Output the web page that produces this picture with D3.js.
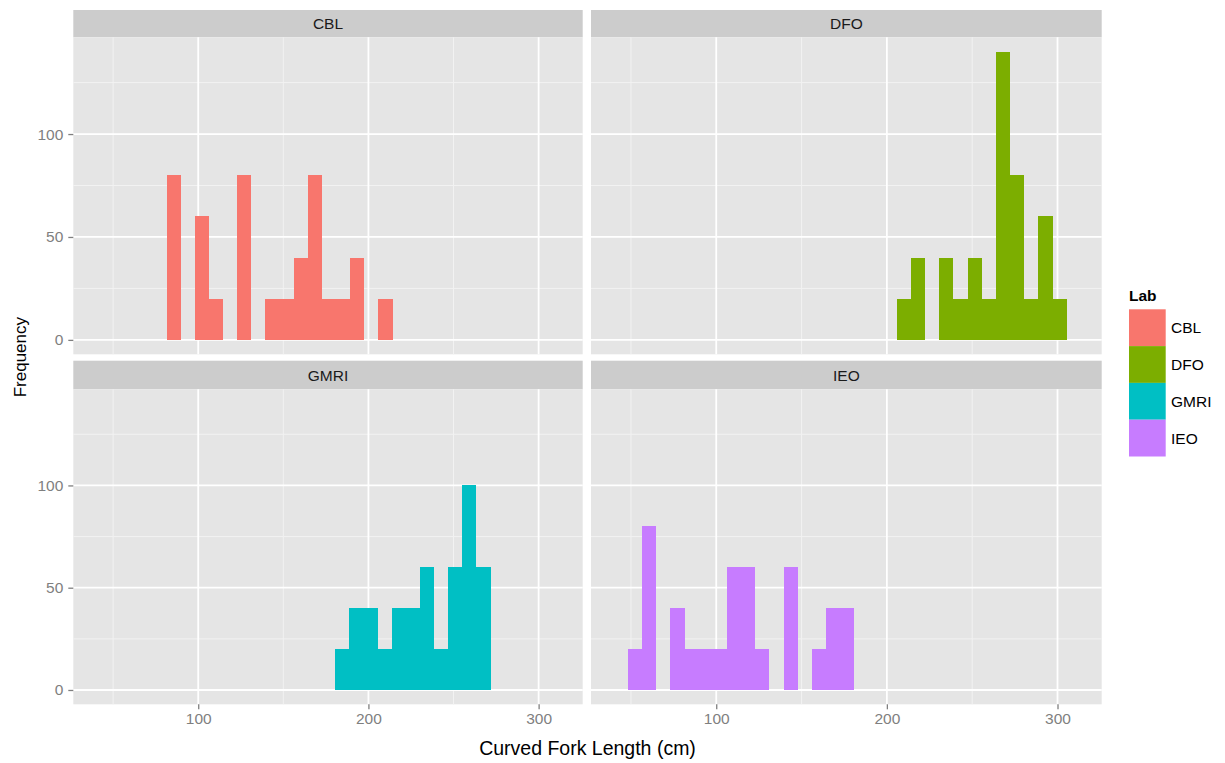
<!DOCTYPE html>
<html>
<head>
<meta charset="utf-8">
<script src="https://cdn.jsdelivr.net/npm/d3@7"></script>
<style>
  html, body { margin: 0; padding: 0; background: #ffffff; }
  svg { display: block; }
  text { font-family: "Liberation Sans", Arial, sans-serif; }
</style>
</head>
<body>
<svg id="chart" width="1225" height="763"></svg>
<script>
// Facet labels and fill colours (ggplot2 default hue palette)
const labs = ["CBL", "DFO", "GMRI", "IEO"];
const labColors = ["#F8766D", "#7CAE00", "#00BFC4", "#C77CFF"];

// Histogram bins: common width, per-lab first bin edge and counts per consecutive bin
const binWidth = 8.3;
const binOrigins = [81.4, 205.8, 180.5, 48.2];
const cblCounts  = [80, 0, 60, 20, 0, 80, 0, 20, 20, 40, 80, 20, 20, 40, 0, 20];
const dfoCounts  = [20, 40, 0, 40, 20, 40, 20, 140, 80, 20, 60, 20];
const gmriCounts = [20, 40, 40, 20, 40, 40, 60, 20, 60, 100, 60];
const ieoCounts  = [20, 80, 0, 40, 20, 20, 20, 60, 60, 20, 0, 60, 0, 20, 40, 40];
const labCounts = [cblCounts, dfoCounts, gmriCounts, ieoCounts];

// Axis ticks
const xMajorTicks = [100, 200, 300];
const xMinorTicks = [50, 150, 250];
const yMajorTicks = [0, 50, 100];
const yMinorTicks = [25, 75, 125];

const xDomain = [26.6, 325.9];
const yDomain = [-7, 147];

const xTitle = "Curved Fork Length (cm)";
const yTitle = "Frequency";
const legendTitle = "Lab";

const svg = d3.select("#chart");

// Facet grid geometry
const cols = [[73.3, 582.7], [591, 1101.7]];
const rows = [
  { strip: [10, 37.3], panel: [37.3, 354.3] },
  { strip: [360.7, 389.3], panel: [389.3, 704.3] }
];

const textGrey = "#7f7f7f";
const smallSize = 15.5;

labs.forEach((lab, i) => {
  const c = i % 2, r = Math.floor(i / 2);
  const [x0, x1] = cols[c];
  const row = rows[r];
  const x = d3.scaleLinear().domain(xDomain).range([x0, x1]);
  const y = d3.scaleLinear().domain(yDomain).range([row.panel[1], row.panel[0]]);

  const g = svg.append("g");

  // strip
  g.append("rect")
    .attr("x", x0).attr("y", row.strip[0])
    .attr("width", x1 - x0).attr("height", row.strip[1] - row.strip[0])
    .attr("fill", "#cccccc");
  g.append("text")
    .attr("x", (x0 + x1) / 2).attr("y", (row.strip[0] + row.strip[1]) / 2)
    .attr("text-anchor", "middle").attr("dominant-baseline", "central")
    .attr("font-size", smallSize).attr("fill", "#1a1a1a")
    .text(lab);

  // panel background
  g.append("rect")
    .attr("x", x0).attr("y", row.panel[0])
    .attr("width", x1 - x0).attr("height", row.panel[1] - row.panel[0])
    .attr("fill", "#e5e5e5");

  // minor grid
  g.selectAll(".vminor").data(xMinorTicks).join("line")
    .attr("x1", d => x(d)).attr("x2", d => x(d))
    .attr("y1", row.panel[0]).attr("y2", row.panel[1])
    .attr("stroke", "#f2f2f2").attr("stroke-width", 1);
  g.selectAll(".hminor").data(yMinorTicks).join("line")
    .attr("y1", d => y(d)).attr("y2", d => y(d))
    .attr("x1", x0).attr("x2", x1)
    .attr("stroke", "#f2f2f2").attr("stroke-width", 1);
  // major grid
  g.selectAll(".vmajor").data(xMajorTicks).join("line")
    .attr("x1", d => x(d)).attr("x2", d => x(d))
    .attr("y1", row.panel[0]).attr("y2", row.panel[1])
    .attr("stroke", "#ffffff").attr("stroke-width", 1.8);
  g.selectAll(".hmajor").data(yMajorTicks).join("line")
    .attr("y1", d => y(d)).attr("y2", d => y(d))
    .attr("x1", x0).attr("x2", x1)
    .attr("stroke", "#ffffff").attr("stroke-width", 1.8);

  // histogram bars
  const bins = labCounts[i].map((n, k) => ({
    start: binOrigins[i] + k * binWidth,
    end: binOrigins[i] + (k + 1) * binWidth,
    n
  })).filter(b => b.n > 0);
  g.selectAll(".bar").data(bins).join("rect")
    .attr("x", d => x(d.start))
    .attr("width", d => x(d.end) - x(d.start))
    .attr("y", d => y(d.n))
    .attr("height", d => y(0) - y(d.n))
    .attr("fill", labColors[i])
    .attr("shape-rendering", "crispEdges");

  // y axis on left column
  if (c === 0) {
    const ya = g.append("g").attr("transform", `translate(${x0},0)`)
      .call(d3.axisLeft(y).tickValues(yMajorTicks).tickSize(5).tickPadding(5));
    ya.select(".domain").remove();
    ya.selectAll("line").attr("stroke", textGrey).attr("stroke-width", 1.3);
    ya.selectAll("text").attr("fill", textGrey).attr("font-size", smallSize)
      .attr("font-family", "Liberation Sans, Arial, sans-serif");
  }
  // x axis on bottom row
  if (r === 1) {
    const xa = g.append("g").attr("transform", `translate(0,${row.panel[1]})`)
      .call(d3.axisBottom(x).tickValues(xMajorTicks).tickSize(5).tickPadding(4));
    xa.select(".domain").remove();
    xa.selectAll("line").attr("stroke", textGrey).attr("stroke-width", 1.3);
    xa.selectAll("text").attr("fill", textGrey).attr("font-size", smallSize)
      .attr("font-family", "Liberation Sans, Arial, sans-serif");
  }
});

// axis titles
svg.append("text")
  .attr("x", (cols[0][0] + cols[1][1]) / 2).attr("y", 755)
  .attr("text-anchor", "middle").attr("font-size", 19.5).attr("fill", "#000")
  .text(xTitle);
svg.append("text")
  .attr("transform", `translate(26,${(rows[0].strip[0] + rows[1].panel[1]) / 2}) rotate(-90)`)
  .attr("text-anchor", "middle").attr("font-size", 17).attr("fill", "#000")
  .text(yTitle);

// legend
const lg = svg.append("g");
lg.append("text").attr("x", 1129).attr("y", 301)
  .attr("font-size", smallSize).attr("font-weight", "bold").attr("fill", "#000")
  .text(legendTitle);
const keySize = 36.8;
labs.forEach((lab, i) => {
  const ky = 309.3 + i * keySize;
  lg.append("rect").attr("x", 1129).attr("y", ky)
    .attr("width", 36.7).attr("height", keySize)
    .attr("fill", labColors[i]);
  lg.append("text").attr("x", 1171).attr("y", ky + keySize / 2)
    .attr("dominant-baseline", "central")
    .attr("font-size", smallSize).attr("fill", "#000")
    .text(lab);
});
</script>
</body>
</html>
